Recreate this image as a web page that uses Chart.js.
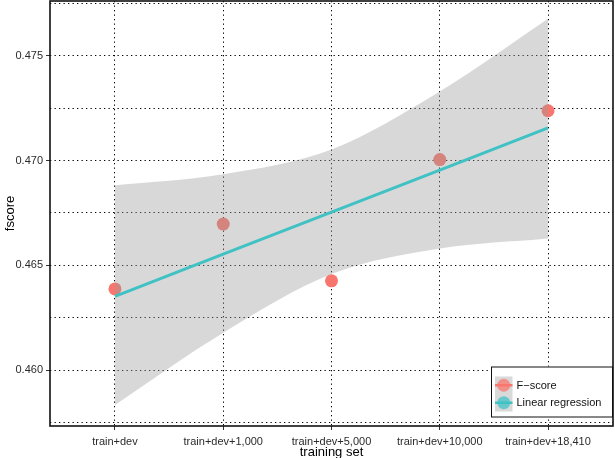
<!DOCTYPE html>
<html>
<head>
<meta charset="utf-8">
<script src="https://cdn.jsdelivr.net/npm/chart.js@4.4.0/dist/chart.umd.min.js"></script>
<style>
html, body { margin: 0; padding: 0; background: #fff; }
</style>
</head>
<body>
<canvas id="chart_fscore" width="615" height="458"></canvas>
<script>
// 訓練データの種類
const categories = ['train+dev', 'train+dev+1,000', 'train+dev+5,000', 'train+dev+10,000', 'train+dev+18,410']
// 実測 F-score
const fscore = [0.46387, 0.46697, 0.46426, 0.47005, 0.47238]
// 回帰直線と信頼区間
const regression = [0.46352, 0.46553, 0.46754, 0.46955, 0.47156]
const bandUpper = [0.46882, 0.46935, 0.47053, 0.47330, 0.47677]
const bandLower = [0.45833, 0.46178, 0.46458, 0.46580, 0.46628]
// 目盛り
const yMajorTicks = [0.460, 0.465, 0.470, 0.475]
const yMinorTicks = [0.4575, 0.4625, 0.4675, 0.4725, 0.4775]

const seriesLabels = ['F\u2212score', 'Linear regression']
const pointColor = '#F8766D'
const lineColor = '#40C2C5'
const bandColor = 'rgba(153,153,153,0.38)'
const font = 'Liberation Sans, Arial, Helvetica, sans-serif'

function to_xy(values) {
    return values.map((v, i) => ({ x: i, y: v }))
}

// 枠線と凡例
const frame_legend_plugin = {
    id: 'frame_legend',
    afterDraw(chart) {
        const ctx = chart.ctx
        const area = chart.chartArea

        // 凡例
        const bx = area.right - 122
        const by = area.bottom - 59.5
        ctx.save()
        ctx.fillStyle = '#fff'
        ctx.fillRect(bx, by, 121.5, 50.5)
        ctx.strokeStyle = '#111'
        ctx.lineWidth = 1
        ctx.strokeRect(bx + 0.5, by + 0.5, 121, 50)

        const colors = [pointColor, lineColor]
        for (let i = 0; i < 2; i++) {
            const kx = bx + 4
            const ky = by + 10 + i * 17.5
            ctx.fillStyle = '#D9D9D9'
            ctx.fillRect(kx, ky, 17.5, 17.5)
            ctx.globalAlpha = 0.75
            ctx.fillStyle = colors[i]
            ctx.beginPath()
            ctx.arc(kx + 8.75, ky + 8.75, 6.5, 0, Math.PI * 2)
            ctx.fill()
            ctx.globalAlpha = 1
            ctx.strokeStyle = colors[i]
            ctx.lineWidth = 2.5
            ctx.beginPath()
            ctx.moveTo(kx, ky + 8.75)
            ctx.lineTo(kx + 17.5, ky + 8.75)
            ctx.stroke()

            ctx.fillStyle = '#111'
            ctx.font = '11px ' + font
            ctx.textBaseline = 'middle'
            ctx.textAlign = 'left'
            ctx.fillText(seriesLabels[i], kx + 21.5, ky + 9)
        }

        // パネル枠
        ctx.strokeStyle = '#111'
        ctx.lineWidth = 1.6
        ctx.strokeRect(area.left, area.top, area.right - area.left, area.bottom - area.top)
        ctx.restore()
    }
}

const chart_fscore = new Chart(document.getElementById('chart_fscore'), {
    type: 'scatter',
    data: {
        datasets: [
            {
                type: 'line',
                label: seriesLabels[1],
                data: to_xy(regression),
                borderColor: lineColor,
                borderWidth: 3,
                pointRadius: 0,
                fill: false,
                order: 0
            },
            {
                type: 'line',
                label: 'upper',
                data: to_xy(bandUpper),
                borderWidth: 0,
                borderColor: 'rgba(0,0,0,0)',
                backgroundColor: bandColor,
                pointRadius: 0,
                cubicInterpolationMode: 'monotone',
                fill: 2,
                order: 1
            },
            {
                type: 'line',
                label: 'lower',
                data: to_xy(bandLower),
                borderWidth: 0,
                borderColor: 'rgba(0,0,0,0)',
                pointRadius: 0,
                cubicInterpolationMode: 'monotone',
                fill: false,
                order: 1
            },
            {
                label: seriesLabels[0],
                data: to_xy(fscore),
                backgroundColor: pointColor,
                borderWidth: 0,
                pointRadius: 6.5,
                order: 2
            }
        ]
    },
    options: {
        responsive: false,
        animation: false,
        events: [],
        layout: {
            autoPadding: false,
            padding: { top: 1, right: 2, left: 0, bottom: 0 }
        },
        plugins: {
            legend: { display: false },
            tooltip: { enabled: false }
        },
        scales: {
            x: {
                type: 'linear',
                min: -0.6,
                max: 4.6,
                z: 1,
                afterBuildTicks: function (scale) {
                    scale.ticks = categories.map((c, i) => ({ value: i }))
                },
                afterFit: function (scale) {
                    scale.height = 32
                    scale.paddingLeft = 0
                    scale.paddingRight = 0
                },
                grid: {
                    color: '#000',
                    lineWidth: 1,
                    tickLength: 4,
                    tickColor: '#333',
                    tickBorderDash: []
                },
                border: { display: false, dash: [1.3, 3.2] },
                ticks: {
                    autoSkip: false,
                    maxRotation: 0,
                    padding: 5,
                    color: '#2b2b2b',
                    font: { family: font, size: 11 },
                    callback: function (value) {
                        return categories[value]
                    }
                },
                title: {
                    display: true,
                    text: 'training set',
                    color: '#000',
                    font: { family: font, size: 13 },
                    padding: { top: 0, bottom: -2 }
                }
            },
            y: {
                type: 'linear',
                min: 0.457326,
                max: 0.477622,
                z: 1,
                afterBuildTicks: function (scale) {
                    scale.ticks = yMajorTicks.concat(yMinorTicks).sort((a, b) => a - b).map((v) => ({ value: v }))
                },
                afterFit: function (scale) {
                    scale.width = 50
                    scale.paddingTop = 0
                    scale.paddingBottom = 0
                },
                grid: {
                    color: '#000',
                    lineWidth: 1,
                    tickLength: 4,
                    tickColor: function (context) {
                        return context.tick && yMajorTicks.includes(context.tick.value) ? '#333' : 'rgba(0,0,0,0)'
                    },
                    tickBorderDash: []
                },
                border: { display: false, dash: [1.3, 3.2] },
                ticks: {
                    padding: 3,
                    color: '#2b2b2b',
                    font: { family: font, size: 11 },
                    callback: function (value) {
                        return yMajorTicks.includes(value) ? value.toFixed(3) : ''
                    }
                },
                title: {
                    display: true,
                    text: 'fscore',
                    color: '#000',
                    font: { family: font, size: 13 },
                    padding: { top: 3, bottom: 0 }
                }
            }
        }
    },
    plugins: [frame_legend_plugin]
})
</script>
</body>
</html>
